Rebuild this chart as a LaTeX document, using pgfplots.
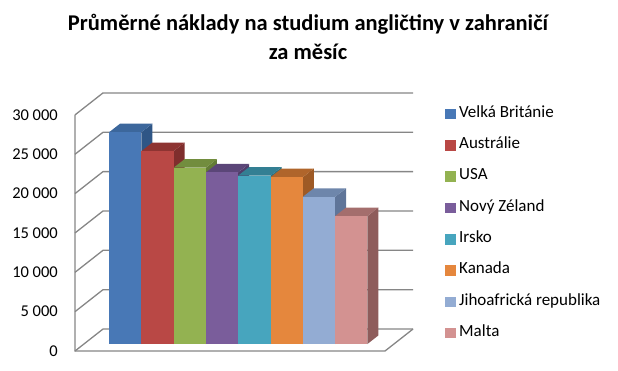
\documentclass[border=0pt]{standalone}
\usepackage{pgfplots}
\pgfplotsset{compat=1.18}
\usepackage{fontspec}
\setmainfont{Carlito}
\definecolor{wall}{HTML}{868686}
\definecolor{cAf}{HTML}{4878B6}\definecolor{cAt}{HTML}{3C679C}\definecolor{cAs}{HTML}{2F5686}
\definecolor{cBf}{HTML}{B94845}\definecolor{cBt}{HTML}{8E3432}\definecolor{cBs}{HTML}{7F2E2D}
\definecolor{cCf}{HTML}{93B251}\definecolor{cCt}{HTML}{728D3E}\definecolor{cCs}{HTML}{637C36}
\definecolor{cDf}{HTML}{7A5D9B}\definecolor{cDt}{HTML}{5B4678}\definecolor{cDs}{HTML}{503D6A}
\definecolor{cEf}{HTML}{47A5BE}\definecolor{cEt}{HTML}{337F93}\definecolor{cEs}{HTML}{2C7082}
\definecolor{cFf}{HTML}{E5873D}\definecolor{cFt}{HTML}{B0652B}\definecolor{cFs}{HTML}{9E5A25}
\definecolor{cGf}{HTML}{93ACD3}\definecolor{cGt}{HTML}{6E86AB}\definecolor{cGs}{HTML}{5F7599}
\definecolor{cHf}{HTML}{D39291}\definecolor{cHt}{HTML}{A46E6D}\definecolor{cHs}{HTML}{8E5C5B}
\begin{document}
\begin{tikzpicture}[x=1pt,y=1pt]
\path[use as bounding box] (0,0) rectangle (618,370);
\node[anchor=base, inner sep=0pt, font=\bfseries\fontsize{22.5}{27}\selectfont] at (308,339) {Průměrné náklady na studium angličtiny v zahraničí};
\node[anchor=base, inner sep=0pt, font=\bfseries\fontsize{22.5}{27}\selectfont] at (308,310) {za měsíc};
\begin{axis}[
  at={(60pt,7.88pt)}, anchor=south west,
  x=1pt, y=0.007877pt,
  xmin=60, xmax=420, ymin=-2300, ymax=33500,
  clip=false,
  scaled y ticks=false,
  axis line style={draw=none},
  major tick length=0pt,
  xtick=\empty,
  ytick={-889,4111,9111,14111,19111,24111,29111},
  yticklabels={0,5 000,10 000,15 000,20 000,25 000,30 000},
  yticklabel pos=left,
  yticklabel style={font=\fontsize{16.5}{20}\selectfont, anchor=east, inner sep=0pt, xshift=-2pt},
  legend style={at={(1.0694,0.9125)}, anchor=north west, draw=none, fill=none, inner sep=0pt,
    row sep=0pt, font=\fontsize{17}{20}\selectfont,
    nodes={inner ysep=0pt, inner xsep=3.5pt, text height=12pt, text depth=19.3pt}},
  legend cell align=left,
  legend image code/.code={\fill[#1] (0pt,1.5pt) rectangle (10.5pt,12pt);},
]
% walls
\addplot[wall, line width=1.3pt, forget plot] coordinates {(75,-889) (103,1904) (413,1904)};
\addplot[wall, line width=1.3pt, forget plot] coordinates {(75,4111) (103,6904) (413,6904)};
\addplot[wall, line width=1.3pt, forget plot] coordinates {(75,9111) (103,11904) (413,11904)};
\addplot[wall, line width=1.3pt, forget plot] coordinates {(75,14111) (103,16904) (413,16904)};
\addplot[wall, line width=1.3pt, forget plot] coordinates {(75,19111) (103,21904) (413,21904)};
\addplot[wall, line width=1.3pt, forget plot] coordinates {(75,24111) (103,26904) (413,26904)};
\addplot[wall, line width=1.3pt, forget plot] coordinates {(75,29111) (103,31904) (413,31904)};
\addplot[wall, line width=1.3pt, forget plot] coordinates {(75,29111) (75,-889) (385,-889) (413,1904)};
% Velka Britanie
\addplot[fill=cAs, draw=none, forget plot] coordinates {(141.3,0) (152.3,1092) (152.3,27992) (141.3,26900)} -- cycle;
\addplot[fill=cAt, draw=none, forget plot] coordinates {(109,26900) (141.3,26900) (152.3,27992) (120,27992)} -- cycle;
\addplot[ybar, bar width=32.3, bar shift=0pt, fill=cAf, draw=none] coordinates {(125.15,26900)};
\addlegendentry{Velká Británie}
% Australie
\addplot[fill=cBs, draw=none, forget plot] coordinates {(173.6,0) (184.6,1092) (184.6,25592) (173.6,24500)} -- cycle;
\addplot[fill=cBt, draw=none, forget plot] coordinates {(141.3,24500) (173.6,24500) (184.6,25592) (152.3,25592)} -- cycle;
\addplot[ybar, bar width=32.3, bar shift=0pt, fill=cBf, draw=none] coordinates {(157.45,24500)};
\addlegendentry{Austrálie}
% USA
\addplot[fill=cCs, draw=none, forget plot] coordinates {(205.9,0) (216.9,1092) (216.9,23492) (205.9,22400)} -- cycle;
\addplot[fill=cCt, draw=none, forget plot] coordinates {(173.6,22400) (205.9,22400) (216.9,23492) (184.6,23492)} -- cycle;
\addplot[ybar, bar width=32.3, bar shift=0pt, fill=cCf, draw=none] coordinates {(189.75,22400)};
\addlegendentry{USA}
% Novy Zeland
\addplot[fill=cDs, draw=none, forget plot] coordinates {(238.2,0) (249.2,1092) (249.2,22892) (238.2,21800)} -- cycle;
\addplot[fill=cDt, draw=none, forget plot] coordinates {(205.9,21800) (238.2,21800) (249.2,22892) (216.9,22892)} -- cycle;
\addplot[ybar, bar width=32.3, bar shift=0pt, fill=cDf, draw=none] coordinates {(222.05,21800)};
\addlegendentry{Nový Zéland}
% Irsko
\addplot[fill=cEs, draw=none, forget plot] coordinates {(270.5,0) (281.5,1092) (281.5,22492) (270.5,21400)} -- cycle;
\addplot[fill=cEt, draw=none, forget plot] coordinates {(238.2,21400) (270.5,21400) (281.5,22492) (249.2,22492)} -- cycle;
\addplot[ybar, bar width=32.3, bar shift=0pt, fill=cEf, draw=none] coordinates {(254.35,21400)};
\addlegendentry{Irsko}
% Kanada
\addplot[fill=cFs, draw=none, forget plot] coordinates {(302.8,0) (313.8,1092) (313.8,22292) (302.8,21200)} -- cycle;
\addplot[fill=cFt, draw=none, forget plot] coordinates {(270.5,21200) (302.8,21200) (313.8,22292) (281.5,22292)} -- cycle;
\addplot[ybar, bar width=32.3, bar shift=0pt, fill=cFf, draw=none] coordinates {(286.65,21200)};
\addlegendentry{Kanada}
% Jihoafricka republika
\addplot[fill=cGs, draw=none, forget plot] coordinates {(335.1,0) (346.1,1092) (346.1,19792) (335.1,18700)} -- cycle;
\addplot[fill=cGt, draw=none, forget plot] coordinates {(302.8,18700) (335.1,18700) (346.1,19792) (313.8,19792)} -- cycle;
\addplot[ybar, bar width=32.3, bar shift=0pt, fill=cGf, draw=none] coordinates {(318.95,18700)};
\addlegendentry{Jihoafrická republika}
% Malta
\addplot[fill=cHs, draw=none, forget plot] coordinates {(367.4,0) (378.4,1092) (378.4,17342) (367.4,16250)} -- cycle;
\addplot[fill=cHt, draw=none, forget plot] coordinates {(335.1,16250) (367.4,16250) (378.4,17342) (346.1,17342)} -- cycle;
\addplot[ybar, bar width=32.3, bar shift=0pt, fill=cHf, draw=none] coordinates {(351.25,16250)};
\addlegendentry{Malta}
\end{axis}
\end{tikzpicture}
\end{document}
